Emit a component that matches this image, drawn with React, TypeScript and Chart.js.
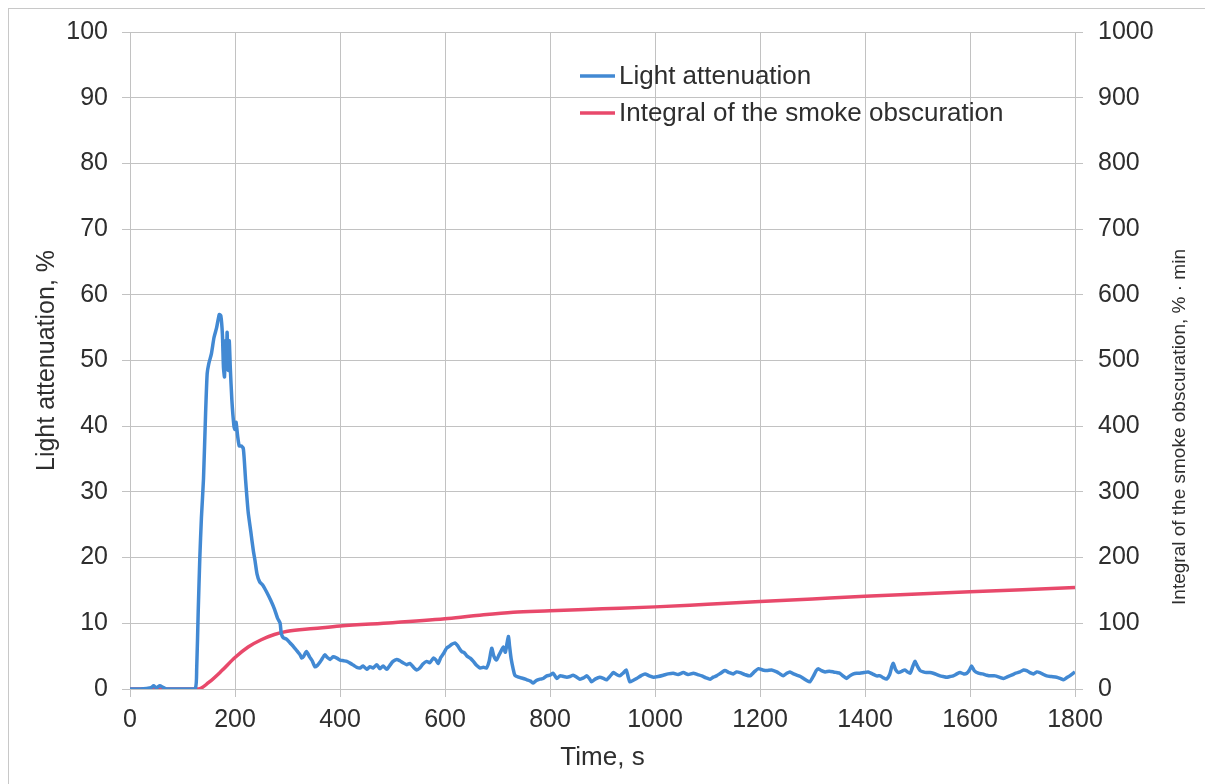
import React, { useEffect, useRef } from "react";
import { Chart, registerables } from "chart.js";

Chart.register(...registerables);

const xTicks = [0, 200, 400, 600, 800, 1000, 1200, 1400, 1600, 1800];
const leftTitle = "Light attenuation, %";
const rightTitle = "Integral of the smoke obscuration, % · min";
const xTitle = "Time, s";
const seriesNames = ["Light attenuation", "Integral of the smoke obscuration"];
const seriesColors = ["#4289d3", "#e8496b"];

// [time s, light attenuation %]
const attenuation: [number, number][] = [
  [0, 0], [20, 0], [40, 0.2], [45, 0.5], [50, 0.2], [57, 0.5], [62, 0.3], [70, 0], [100, 0], [124, 0],
  [127, 3], [130, 12], [133, 20], [136, 26], [140, 32], [144, 42], [147, 48], [150, 49.5], [155, 51],
  [160, 53.5], [165, 55], [170, 57], [173, 56.8], [176, 54], [178, 49], [180, 47.5], [182, 53], [184, 50],
  [185, 54.3], [187, 48.5], [189, 53], [191, 49], [194, 44], [198, 40], [200, 39.5], [202, 40.6], [205, 38.5],
  [208, 37], [212, 37], [216, 36.5], [220, 32], [225, 27], [230, 24], [235, 21], [238, 19.6], [242, 17.5],
  [247, 16.3], [253, 15.8], [260, 14.8], [268, 13.5], [275, 12.2], [281, 10.8], [286, 10], [288, 8.5],
  [292, 7.8], [298, 7.6], [305, 7], [311, 6.5], [318, 5.8], [324, 5.2], [327, 4.7], [331, 5], [336, 5.7],
  [342, 4.9], [347, 4.3], [352, 3.4], [357, 3.6], [362, 4.1], [366, 4.6], [371, 5.2], [376, 4.8], [381, 4.5],
  [387, 4.9], [394, 4.7], [400, 4.4], [407, 4.3], [413, 4.2], [420, 3.9], [426, 3.6], [432, 3.3], [438, 3.2],
  [444, 3.5], [451, 3.0], [457, 3.4], [463, 3.2], [470, 3.7], [476, 3.1], [482, 3.5], [489, 3.0], [495, 3.6],
  [501, 4.2], [508, 4.5], [514, 4.3], [520, 4.0], [527, 3.7], [533, 3.9], [540, 3.3], [546, 2.9], [552, 3.2],
  [558, 3.8], [565, 4.2], [571, 4.0], [578, 4.7], [583, 4.4], [587, 3.9], [592, 4.8], [598, 5.5], [603, 6.2],
  [608, 6.5], [613, 6.8], [619, 7.0], [624, 6.6], [628, 6.1], [632, 5.7], [637, 5.5], [642, 5.0], [648, 4.7],
  [654, 4.2], [660, 3.6], [667, 3.2], [673, 3.3], [679, 3.2], [684, 4.2], [689, 6.2], [693, 5.0], [698, 4.4],
  [703, 5.2], [707, 5.8], [711, 6.4], [715, 5.6], [718, 6.9], [721, 8.0], [723, 6.5], [726, 4.6], [730, 3.0],
  [733, 2.1], [740, 1.8], [749, 1.6], [756, 1.4], [763, 1.2], [768, 0.9], [774, 1.3], [781, 1.5], [787, 1.6],
  [794, 2.0], [800, 2.1], [806, 2.4], [813, 1.6], [819, 2.0], [826, 1.9], [832, 1.8], [838, 1.9], [844, 2.1],
  [851, 1.8], [857, 1.5], [864, 1.7], [870, 2.0], [875, 1.6], [879, 1.1], [886, 1.5], [895, 1.8], [902, 1.6],
  [908, 1.4], [915, 2.0], [921, 2.5], [927, 2.2], [933, 2.0], [939, 2.4], [945, 2.9], [949, 1.8], [952, 1.1],
  [958, 1.3], [965, 1.6], [973, 2.0], [981, 2.3], [989, 2.0], [997, 1.8], [1006, 1.9], [1016, 2.1], [1025, 2.3],
  [1035, 2.4], [1044, 2.2], [1054, 2.5], [1063, 2.2], [1073, 2.4], [1081, 2.2], [1089, 2.0], [1097, 1.7],
  [1105, 1.5], [1111, 1.8], [1117, 2.0], [1125, 2.4], [1133, 2.8], [1141, 2.5], [1149, 2.3], [1155, 2.6],
  [1162, 2.5], [1171, 2.2], [1181, 2.0], [1189, 2.6], [1197, 3.1], [1205, 2.9], [1213, 2.8], [1222, 2.9],
  [1232, 2.6], [1238, 2.3], [1244, 2.0], [1251, 2.4], [1257, 2.6], [1264, 2.3], [1270, 2.1], [1277, 1.9],
  [1283, 1.6], [1289, 1.3], [1295, 1.1], [1302, 2.0], [1307, 2.8], [1311, 3.1], [1317, 2.8], [1324, 2.6],
  [1332, 2.7], [1340, 2.6], [1346, 2.5], [1352, 2.4], [1358, 2.0], [1365, 1.6], [1371, 2.0], [1378, 2.3],
  [1384, 2.4], [1390, 2.4], [1398, 2.5], [1406, 2.6], [1414, 2.3], [1422, 2.0], [1429, 2.0], [1435, 1.7],
  [1441, 1.5], [1447, 2.2], [1451, 3.4], [1454, 3.9], [1458, 3.0], [1464, 2.5], [1470, 2.7], [1476, 2.9],
  [1481, 2.6], [1486, 2.4], [1490, 3.2], [1495, 4.2], [1499, 3.6], [1505, 2.8], [1511, 2.6], [1517, 2.5],
  [1524, 2.5], [1530, 2.4], [1537, 2.2], [1543, 2.0], [1549, 1.9], [1556, 1.8], [1562, 1.9], [1568, 2.0],
  [1575, 2.3], [1581, 2.5], [1588, 2.3], [1594, 2.4], [1599, 2.9], [1603, 3.5], [1608, 2.8], [1616, 2.4],
  [1624, 2.3], [1632, 2.1], [1640, 2.0], [1648, 2.0], [1656, 1.8], [1664, 1.6], [1672, 1.9], [1679, 2.1],
  [1687, 2.4], [1695, 2.6], [1702, 2.9], [1708, 2.8], [1714, 2.5], [1721, 2.3], [1727, 2.6], [1733, 2.5],
  [1740, 2.2], [1746, 2.0], [1755, 1.9], [1765, 1.8], [1772, 1.6], [1778, 1.4], [1784, 1.7], [1790, 2.0],
  [1795, 2.3], [1800, 2.6],
];

// [time s, integral of smoke obscuration %·min]
const integral: [number, number][] = [
  [0, 0], [130, 0], [150, 10], [175, 28], [200, 48], [225, 64], [250, 75], [275, 83], [300, 88],
  [350, 92], [400, 96], [500, 101], [600, 107], [650, 111], [730, 117], [800, 119], [900, 122],
  [1000, 125], [1100, 129], [1200, 133], [1300, 137], [1400, 141], [1500, 144.5], [1600, 148],
  [1700, 151], [1800, 154.5],
];

const FONT = "'Liberation Sans', Arial, sans-serif";
const GRID = "#c2c2c2";
const TEXT = "#2e2e2e";
const plain = (v: any) => String(v);

export default function App() {
  const ref = useRef<HTMLCanvasElement>(null);

  useEffect(() => {
    if (!ref.current) return;
    const overlay = {
      id: "overlay",
      afterDraw(chart: any) {
        const ctx = chart.ctx;
        ctx.save();
        // legend
        const lx = 571;
        const ly = [74, 111];
        seriesNames.forEach((name, i) => {
          ctx.strokeStyle = seriesColors[i];
          ctx.lineWidth = 3.5;
          ctx.beginPath();
          ctx.moveTo(lx, ly[i]);
          ctx.lineTo(lx + 35, ly[i]);
          ctx.stroke();
          ctx.fillStyle = TEXT;
          ctx.font = `26px ${FONT}`;
          ctx.textAlign = "left";
          ctx.textBaseline = "middle";
          ctx.fillText(name, lx + 39, ly[i] + 1);
        });
        // right axis title (reads bottom to top)
        ctx.translate(1171, 425);
        ctx.rotate(-Math.PI / 2);
        ctx.font = `19px ${FONT}`;
        ctx.textAlign = "center";
        ctx.textBaseline = "middle";
        ctx.fillStyle = TEXT;
        ctx.fillText(rightTitle, 0, 0);
        ctx.restore();
      },
    };

    const chart = new Chart(ref.current, {
      type: "line",
      data: {
        datasets: [
          {
            label: seriesNames[0],
            data: attenuation.map(([x, y]) => ({ x, y })),
            borderColor: seriesColors[0],
            borderWidth: 3.5,
            pointRadius: 0,
            tension: 0.2,
            yAxisID: "y",
          },
          {
            label: seriesNames[1],
            data: integral.map(([x, y]) => ({ x, y })),
            borderColor: seriesColors[1],
            borderWidth: 3.5,
            pointRadius: 0,
            cubicInterpolationMode: "monotone",
            yAxisID: "y1",
          },
        ],
      },
      options: {
        responsive: false,
        animation: false,
        layout: { padding: { top: 15, left: 0, right: 0, bottom: 0 } },
        plugins: { legend: { display: false }, tooltip: { enabled: false } },
        scales: {
          x: {
            type: "linear",
            min: 0,
            max: 1800,
            afterBuildTicks: (s: any) => {
              s.ticks = xTicks.map((v) => ({ value: v }));
            },
            afterFit: (s: any) => {
              s.height = 85;
            },
            ticks: { color: TEXT, font: { family: FONT, size: 25 }, padding: 8, maxRotation: 0, callback: plain },
            grid: { color: GRID, tickLength: 8, lineWidth: 1 },
            border: { color: GRID },
            title: {
              display: true,
              text: xTitle,
              color: TEXT,
              font: { family: FONT, size: 26 },
              padding: { top: 0, bottom: 1 },
            },
          },
          y: {
            position: "left",
            min: 0,
            max: 100,
            ticks: { stepSize: 10, color: TEXT, font: { family: FONT, size: 25 }, padding: 14, callback: plain },
            afterFit: (s: any) => {
              s.width = 121;
            },
            grid: { color: GRID, tickLength: 8 },
            border: { color: GRID },
            title: {
              display: true,
              text: leftTitle,
              color: TEXT,
              font: { family: FONT, size: 25 },
              padding: { top: 23, bottom: 0 },
            },
          },
          y1: {
            position: "right",
            min: 0,
            max: 1000,
            ticks: { stepSize: 100, color: TEXT, font: { family: FONT, size: 25 }, padding: 15, callback: plain },
            afterFit: (s: any) => {
              s.width = 130;
            },
            grid: { color: GRID, tickLength: 8, drawOnChartArea: false },
            border: { color: GRID },
          },
        },
      },
      plugins: [overlay],
    } as any);
    return () => chart.destroy();
  }, []);

  return (
    <div
      style={{
        position: "fixed",
        left: 8,
        top: 8,
        width: 1197,
        height: 776,
        boxSizing: "border-box",
        borderTop: "1px solid #c8c8c8",
        borderLeft: "1px solid #c8c8c8",
        overflow: "hidden",
        background: "#fff",
      }}
    >
      <canvas
        ref={ref}
        width={1196}
        height={772}
        style={{ display: "block", position: "absolute", left: 0, top: -7 }}
      />
    </div>
  );
}
